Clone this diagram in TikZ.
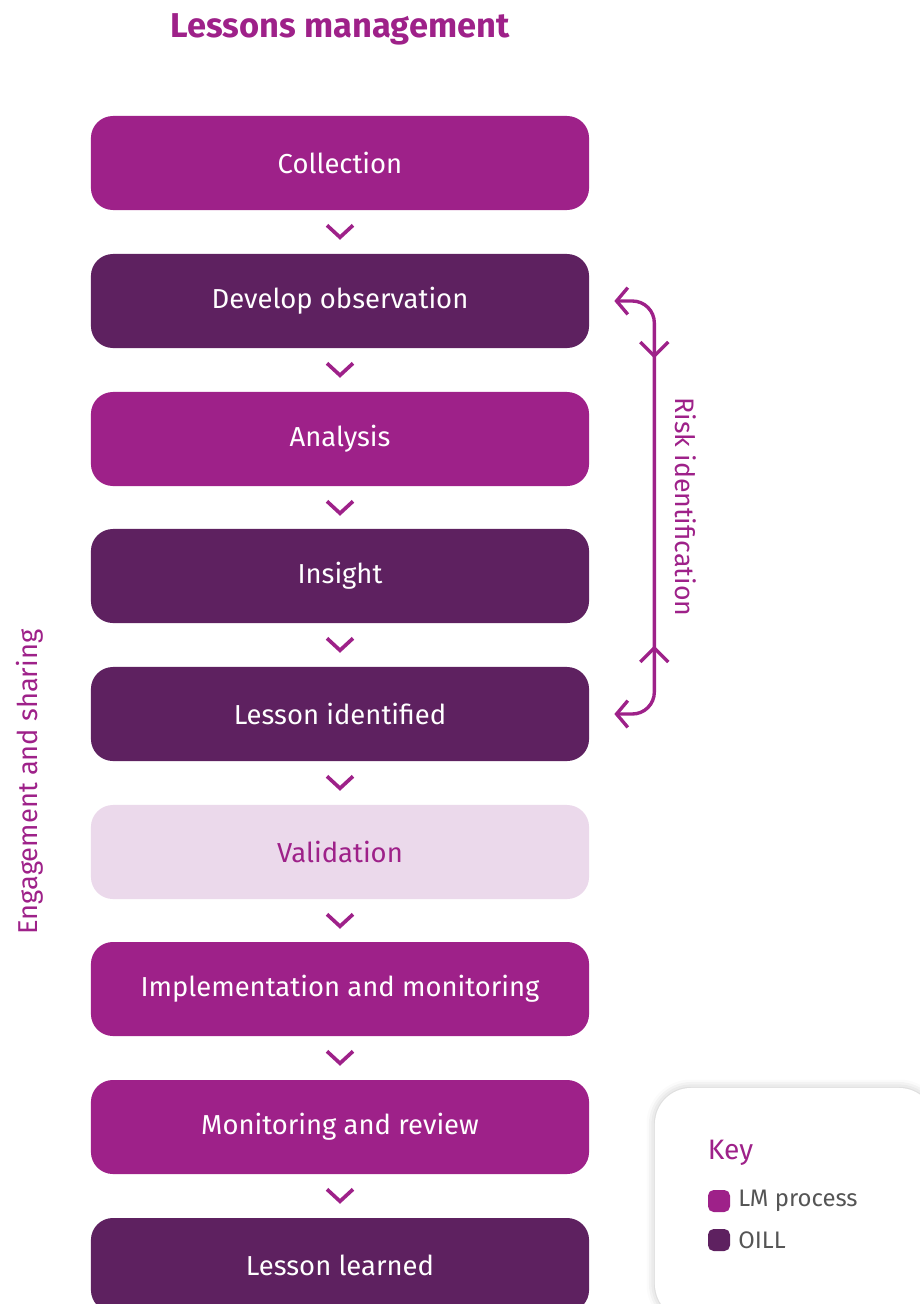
\documentclass[tikz,border=0pt]{standalone}
\usepackage{fontspec}
\setmainfont{Fira Sans}
\usetikzlibrary{arrows.meta,calc,shadows.blur}
\definecolor{lmpurple}{HTML}{9E2189}
\definecolor{oillpurple}{HTML}{5E2160}
\definecolor{lightlm}{HTML}{EBD9EB}
\definecolor{keygray}{HTML}{555555}
\tikzset{
  stage/.style={rounded corners=0.55cm, minimum width=12.45cm, minimum height=2.35cm,
    font=\fontsize{19.5}{23}\selectfont, text=white},
  lmbox/.style={stage, fill=lmpurple},
  oillbox/.style={stage, fill=oillpurple},
  valbox/.style={stage, fill=lightlm, text=lmpurple},
  chev/.style={draw=lmpurple, line width=2.6pt},
  risk/.style={draw=lmpurple, line width=2.4pt},
  keysq/.style={fill=#1, rounded corners=4pt, minimum size=0.55cm, inner sep=0pt},
}
\begin{document}
\begin{tikzpicture}[x=0.025cm,y=-0.025cm]
        \useasboundingbox (0,0) rectangle (920,1304);

        \node[font=\bfseries\fontsize{24.5}{28}\selectfont, text=lmpurple] (title) at (340,29) {Lessons management};

        % process stages
        \node[lmbox] (coll) at (340,163) {Collection};
        \node[oillbox] (dev) at (340,301) {Develop observation};
        \node[lmbox] (anal) at (340,439) {Analysis};
        \node[oillbox] (ins) at (340,576) {Insight};
        \node[oillbox] (lid) at (340,714) {Lesson identified};
        \node[valbox] (val) at (340,852) {Validation};
        \node[lmbox] (impl) at (340,989) {Implementation and monitoring};
        \node[lmbox] (mon) at (340,1127) {Monitoring and review};
        \node[oillbox] (learn) at (340,1265) {Lesson learned};

        % chevrons between stages
        \draw[chev] ($(coll.south)+(-13,15)$) -- ++(13,12) -- ++(13,-12);
        \draw[chev] ($(dev.south)+(-13,15)$) -- ++(13,12) -- ++(13,-12);
        \draw[chev] ($(anal.south)+(-13,15)$) -- ++(13,12) -- ++(13,-12);
        \draw[chev] ($(ins.south)+(-13,15)$) -- ++(13,12) -- ++(13,-12);
        \draw[chev] ($(lid.south)+(-13,15)$) -- ++(13,12) -- ++(13,-12);
        \draw[chev] ($(val.south)+(-13,15)$) -- ++(13,12) -- ++(13,-12);
        \draw[chev] ($(impl.south)+(-13,15)$) -- ++(13,12) -- ++(13,-12);
        \draw[chev] ($(mon.south)+(-13,15)$) -- ++(13,12) -- ++(13,-12);

        % risk identification bracket
        \coordinate (rtop) at ($(dev.east)+(25,0)$);
        \coordinate (rbot) at ($(lid.east)+(25,0)$);
        \draw[risk, rounded corners=0.55cm, {Straight Barb[length=8pt,width=19pt]}-{Straight Barb[length=8pt,width=19pt]}]
            (rtop) -- ++(40,0) |- (rbot);
        \draw[risk] ($(rtop)+(26,41)$) -- ++(14,14) -- ++(14,-14);
        \draw[risk] ($(rbot)+(26,-52)$) -- ++(14,-14) -- ++(14,14);
        \node[rotate=-90, text=lmpurple, font=\fontsize{19}{22}\selectfont] (riskid) at (686,507) {Risk identification};

        \node[rotate=90, text=lmpurple, font=\fontsize{19.4}{22}\selectfont] (engage) at (30,782) {Engagement and sharing};

        % key
        \node[fill=white, rounded corners=0.9cm, minimum width=7cm, minimum height=5.8cm,
              blur shadow={shadow xshift=0pt, shadow yshift=0pt, shadow blur radius=6pt, shadow opacity=25}] (keybox) at (795,1204) {};
        \node[anchor=west, text=lmpurple, font=\fontsize{20}{24}\selectfont] (keytitle) at (703,1153) {Key};
        \node[keysq=lmpurple] (sqlm) at (719,1201) {};
        \node[keysq=oillpurple] (sqoill) at (719,1240) {};
        \node[anchor=west, text=keygray, font=\fontsize{17}{20}\selectfont, inner sep=0pt] (txtlm) at (738,1201) {LM process};
        \node[anchor=west, text=keygray, font=\fontsize{17}{20}\selectfont, inner sep=0pt] (txtoill) at (738,1240) {OILL};

\end{tikzpicture}
\end{document}
